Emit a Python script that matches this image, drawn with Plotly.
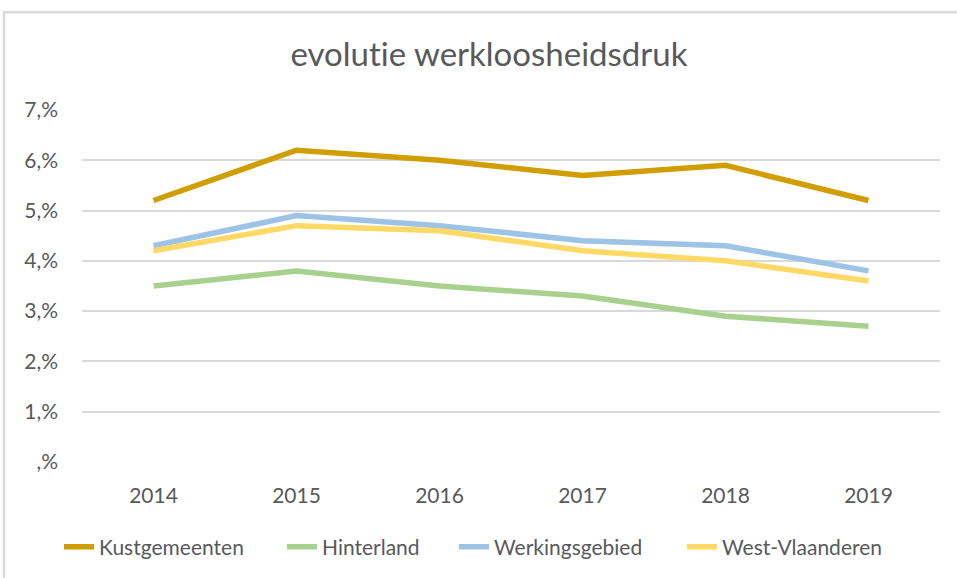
import plotly.graph_objects as go

years = ["2014", "2015", "2016", "2017", "2018", "2019"]
kust = [5.2, 6.2, 6.0, 5.7, 5.9, 5.2]
hinter = [3.5, 3.8, 3.5, 3.3, 2.9, 2.7]
werk = [4.3, 4.9, 4.7, 4.4, 4.3, 3.8]
westvl = [4.2, 4.7, 4.6, 4.2, 4.0, 3.6]
series_names = ["Kustgemeenten", "Hinterland", "Werkingsgebied", "West-Vlaanderen"]
colors = ["#D09E00", "#A9D18E", "#9DC3E6", "#FFD966"]
ytick_vals = [0, 1, 2, 3, 4, 5, 6, 7]
ytick_text = [",%", "1,%", "2,%", "3,%", "4,%", "5,%", "6,%", "7,%"]

W, H = 957, 578
L, R, T, B = 82, 17, 110, 115
pw, ph = W - L - R, H - T - B
legend_px = [65, 288, 460, 688]  # left edge of each legend entry (pixels)
legend_ids = ["legend", "legend2", "legend3", "legend4"]

font = "Lato"
fig = go.Figure()
for name, vals, c, lid in zip(series_names, [kust, hinter, werk, westvl], colors, legend_ids):
    fig.add_trace(go.Scatter(x=years, y=vals, name=name, mode="lines", legend=lid,
                             line=dict(color=c, width=5.5)))

legends = {}
for lid, px in zip(legend_ids, legend_px):
    legends[lid] = dict(orientation="h", x=(px - 6 - L) / pw, xanchor="left",
                        y=(463 - 547) / ph, yanchor="middle",
                        font=dict(family=font, size=21, color="#595959"),
                        bgcolor="rgba(0,0,0,0)")

fig.update_layout(
    width=W, height=H,
    margin=dict(l=L, r=R, t=T, b=B),
    paper_bgcolor="white", plot_bgcolor="white",
    title=dict(text="evolut\u200cie werkloosheidsdruk", x=489 / W, xanchor="center",
               y=1 - 54 / H, yanchor="middle",
               font=dict(family=font, size=33, color="#595959")),
    xaxis=dict(type="category", range=[-0.5, 5.5], showgrid=False, showline=False,
               zeroline=False, ticks="", ticklabelstandoff=19,
               tickfont=dict(family=font, size=21, color="#595959")),
    yaxis=dict(range=[0, 7], tickvals=ytick_vals, ticktext=ytick_text,
               showgrid=True, gridcolor="#D9D9D9", gridwidth=1.5, zeroline=False,
               showline=False, ticks="", ticklabelstandoff=23,
               tickfont=dict(family=font, size=21, color="#595959")),
    showlegend=True,
    **legends,
)
fig.add_shape(type="rect", xref="paper", yref="paper",
              x0=(4 - L) / pw, x1=(W + 20 - L) / pw,
              y0=(463 - (H + 20)) / ph, y1=1 + (T - 12) / ph,
              line=dict(color="#D9D9D9", width=2.5), layer="below")
fig.write_html("out.html", config={"displayModeBar": False},
               post_script="document.body.style.margin='0';document.body.style.overflow='hidden';")
